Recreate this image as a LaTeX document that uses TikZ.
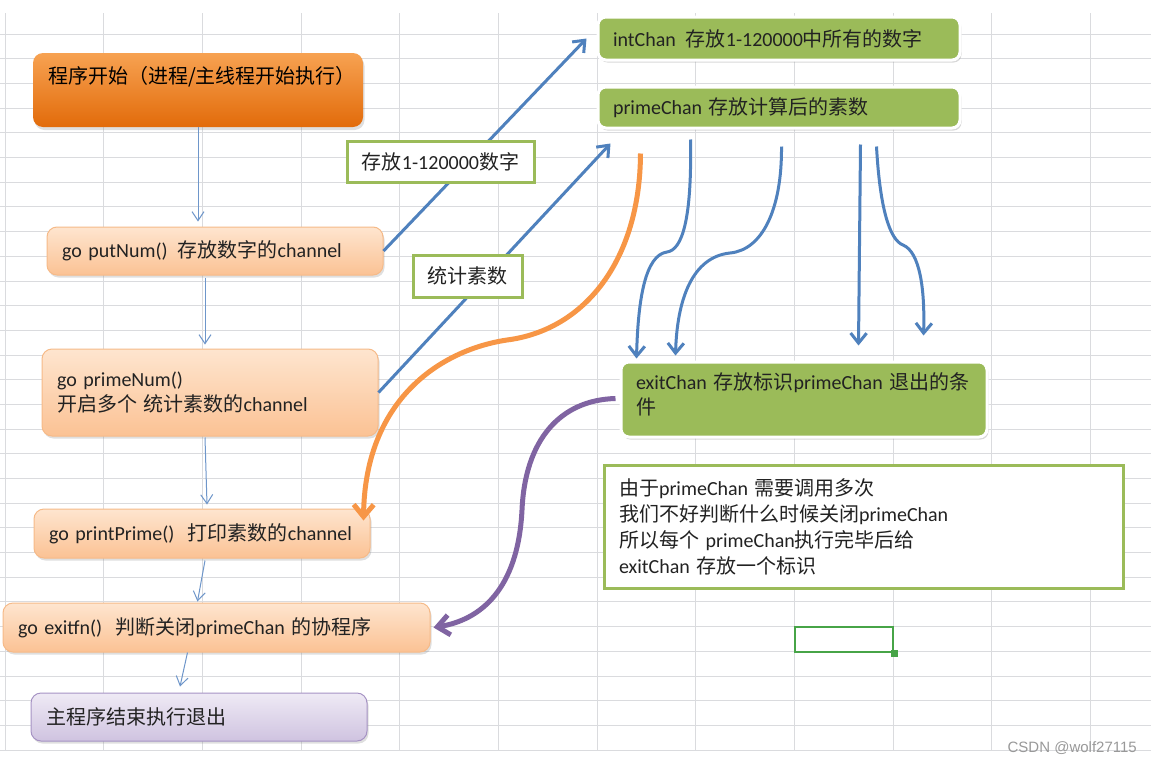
\documentclass[tikz,border=0pt]{standalone}
\usepackage{fontspec}
\setmainfont{Carlito}
\newfontfamily\cjk{Noto Sans CJK SC}
\newfontfamily\wmfont{Liberation Sans}
\usepackage{xcolor}
\usepackage{tikz}
\usetikzlibrary{arrows.meta,calc,shadows}

\newcommand{\zh}[1]{{\cjk #1}}

\definecolor{gridgray}{HTML}{DADBDE}
\definecolor{startTop}{HTML}{F7A252}
\definecolor{startBot}{HTML}{E26B0A}
\definecolor{taskTop}{HTML}{FEE5CF}
\definecolor{taskBot}{HTML}{FBC294}
\definecolor{taskLine}{HTML}{F6BA88}
\definecolor{endTop}{HTML}{EFEAF5}
\definecolor{endBot}{HTML}{CFC3E0}
\definecolor{endLine}{HTML}{A693C4}
\definecolor{chanGreen}{HTML}{9BBB59}
\definecolor{flowBlue}{HTML}{4F81BD}
\definecolor{thinBlue}{HTML}{6E96CA}
\definecolor{primeOrange}{HTML}{F79646}
\definecolor{exitPurple}{HTML}{8064A2}
\definecolor{cellGreen}{HTML}{47A447}
\definecolor{textDark}{HTML}{222222}

\begin{document}
\begin{tikzpicture}[x=1pt, y=-1pt,
  font=\fontsize{20}{25}\selectfont,
  gridline/.style={gridgray, line width=0.8pt},
  box/.style={rounded corners=10pt, inner xsep=15pt, inner ysep=0pt, align=left, text=textDark},
  task/.style={box, draw=taskLine, line width=1pt, top color=taskTop, bottom color=taskBot,
    drop shadow={shadow xshift=1.5pt, shadow yshift=-2.5pt, opacity=0.25}},
  chan/.style={box, rounded corners=8pt, fill=chanGreen, draw=white, line width=3pt,
    drop shadow={shadow xshift=1.5pt, shadow yshift=-2.5pt, opacity=0.3}},
  tag/.style={draw=chanGreen, line width=3pt, fill=white, inner sep=0pt, align=center, text=textDark},
  note/.style={tag, inner xsep=15pt, align=left},
  flow/.style={-{Straight Barb[length=9pt,width=12pt]}, thinBlue, line width=1pt},
  feed/.style={-{Straight Barb[length=10pt,width=16pt]}, flowBlue, line width=3pt},
  toprint/.style={-{Straight Barb[length=12pt,width=20pt]}, primeOrange, line width=5pt},
  toexit/.style={-{Straight Barb[length=12pt,width=20pt]}, exitPurple, line width=5pt}
]
\useasboundingbox[fill=white] (0,0) rectangle (1151,763);

\foreach \i in {0,...,11}
  \draw[gridline] ({5+98.67*\i},13) -- ({5+98.67*\i},750);
\foreach \j in {0,...,29}
  \draw[gridline] (0,{34+24.69*\j}) -- (1151,{34+24.69*\j});

\node[box, top color=startTop, bottom color=startBot, text=black,
  drop shadow={shadow xshift=1.5pt, shadow yshift=-3pt, opacity=0.25},
  minimum width=330pt, minimum height=74pt, text width=300pt, text height=16pt, text depth=30pt]
  (start) at (198,90) {\zh{程序开始（进程/主线程开始执行）}};
\node[task, minimum height=48pt, text width=306pt] (putNum) at (215,251)
  {\mbox{go putNum()~\,\zh{存放数字的}channel}};
\node[task, minimum height=87pt, text width=306pt] (primeNum) at (210,392.5)
  {go primeNum()\\\zh{开启多个 统计素数的}channel};
\node[task, minimum height=49pt, text width=306pt] (printPrime) at (202,533.5)
  {\mbox{go printPrime()~~\zh{打印素数的}channel}};
\node[task, minimum height=49pt, text width=397pt] (exitfn) at (216.5,627.5)
  {\mbox{go exitfn()~~\zh{判断关闭}primeChan \zh{的协程序}}};
\node[box, draw=endLine, line width=1pt, top color=endTop, bottom color=endBot,
  drop shadow={shadow xshift=1.5pt, shadow yshift=-2.5pt, opacity=0.25},
  minimum height=48pt, text width=306pt] (end) at (199,717) {\zh{主程序结束执行退出}};

\node[chan, minimum height=43pt, text width=332pt] (intChan) at (779,38.5)
  {\mbox{intChan~\,\zh{存放}1-120000\zh{中所有的数字}}};
\node[chan, minimum height=41pt, text width=332pt] (primeChan) at (779,107.5)
  {primeChan \zh{存放计算后的素数}};
\node[chan, minimum height=75pt, text width=336pt, text depth=37pt] (exitChan) at (804,399.5)
  {exitChan \zh{存放标识}primeChan \zh{退出的条}\\\zh{件}};

\node[note, minimum height=123pt, text width=489pt, font=\fontsize{20}{26}\selectfont] (why) at (863.5,526.5)
  {\zh{由于}primeChan \zh{需要调用多次}\\\zh{我们不好判断什么时候关闭}primeChan\\\zh{所以每个} primeChan\zh{执行完毕后给}\\exitChan \zh{存放一个标识}};

\node[draw=cellGreen, line width=2.5pt, minimum width=98pt, minimum height=25pt, inner sep=0pt] (sel) at (844,639.5) {};
\fill[cellGreen] (sel.south east) +(-3.5,-3.5) rectangle +(3.5,3.5);

\draw[flow, shorten >=5pt] (start.south) -- (start.south |- putNum.north);
\draw[flow] ($(putNum.south)+(-10,2)$) -- ($(primeNum.north)+(-5,-4)$);
\draw[flow] ($(primeNum.south)+(-5,1)$) -- ($(printPrime.north)+(5,-4)$);
\draw[flow] ($(printPrime.south)+(3,2)$) -- ($(exitfn.north)+(-19,-1)$);
\draw[flow] ($(exitfn.south)+(-29,0)$) -- ($(end.north)+(-19,-6)$);

\draw[feed] (putNum.east) -- ($(intChan.west)+(-10,0)$);
\draw[feed] (primeNum.east) -- ($(primeChan.south west)+(14,14)$);

\draw[toprint] ($(primeChan.south west)+(44,24)$) .. controls (640,260) and (585,330) .. (507,340)
  .. controls (440,350) and (365,400) .. ($(printPrime.east)+(-7,-13)$);

\draw[feed] ($(primeChan.south west)+(94,10)$) .. controls (692,220) and (682,250) .. (667,252)
  .. controls (645,255) and (638,300) .. ($(exitChan.north west)+(17,-2)$);
\draw[feed] ($(primeChan.south west)+(185,17)$) .. controls (782,210) and (762,250) .. (730,253)
  .. controls (692,257) and (677,300) .. ($(exitChan.north west)+(56,-5)$);
\draw[feed] ($(primeChan.south west)+(264,15)$) -- ($(exitChan.north west)+(239,-15)$);
\draw[feed] ($(primeChan.south west)+(280,17)$) .. controls (880,210) and (890,240) .. (903,245)
  .. controls (920,252) and (925,290) .. ($(exitChan.north west)+(304,-25)$);

\draw[toexit] ($(exitChan.west)+(-4,-1)$) .. controls (560,400) and (525,440) .. (522,510)
  .. controls (518,590) and (480,620) .. ($(exitfn.east)+(3,0)$);

\node[tag, minimum width=187pt, minimum height=41pt] (putTag) at (440.5,161.5) {\zh{存放}1-120000\zh{数字}};
\node[tag, minimum width=109pt, minimum height=42pt] (primeTag) at (467.5,276) {\zh{统计素数}};

\node[anchor=east, text=black!40, font=\wmfont\fontsize{15}{15}\selectfont, inner sep=0pt] (mark) at (1137,748) {CSDN @wolf27115};
\end{tikzpicture}
\end{document}
